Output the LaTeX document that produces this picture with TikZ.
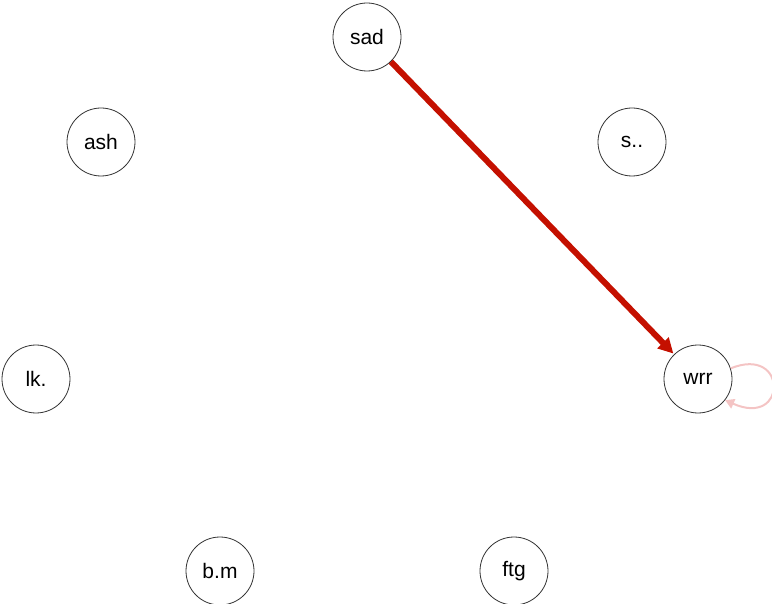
\documentclass[tikz,border=0pt]{standalone}
\usepackage{fontspec}
\setmainfont{Liberation Sans}
\usetikzlibrary{arrows.meta}
\definecolor{edgered}{RGB}{196,16,0}
\definecolor{looppink}{RGB}{244,196,196}
\begin{document}
\begin{tikzpicture}[x=1pt,y=1pt,
  vtx/.style={circle,draw=black!80,line width=0.8pt,fill=white,minimum size=68pt,inner sep=0pt,font=\fontsize{21}{24}\selectfont},
  bigedge/.style={draw=edgered,line width=6pt,-{Triangle[length=15pt,width=15pt]},shorten >=1pt},
  selfloop/.style={draw=looppink,line width=2pt,-{Triangle[length=9pt,width=10pt]}}]
\useasboundingbox (0,0) rectangle (772,-604);
\node[vtx] (sad) at (367,-37) {sad};
\node[vtx] (ash) at (101,-142) {ash};
\node[vtx] (s) at (632,-142) {s..};
\node[vtx] (lk) at (36,-379) {lk.};
\node[vtx] (wrr) at (698,-379) {wrr};
\node[vtx] (bm) at (220,-571) {b.m};
\node[vtx] (ftg) at (514,-571) {ftg};
\draw[bigedge] (sad) -- (wrr);
\draw[selfloop] (wrr.18) .. controls (788,-345) and (788,-428) .. (wrr.-38);
\end{tikzpicture}
\end{document}
